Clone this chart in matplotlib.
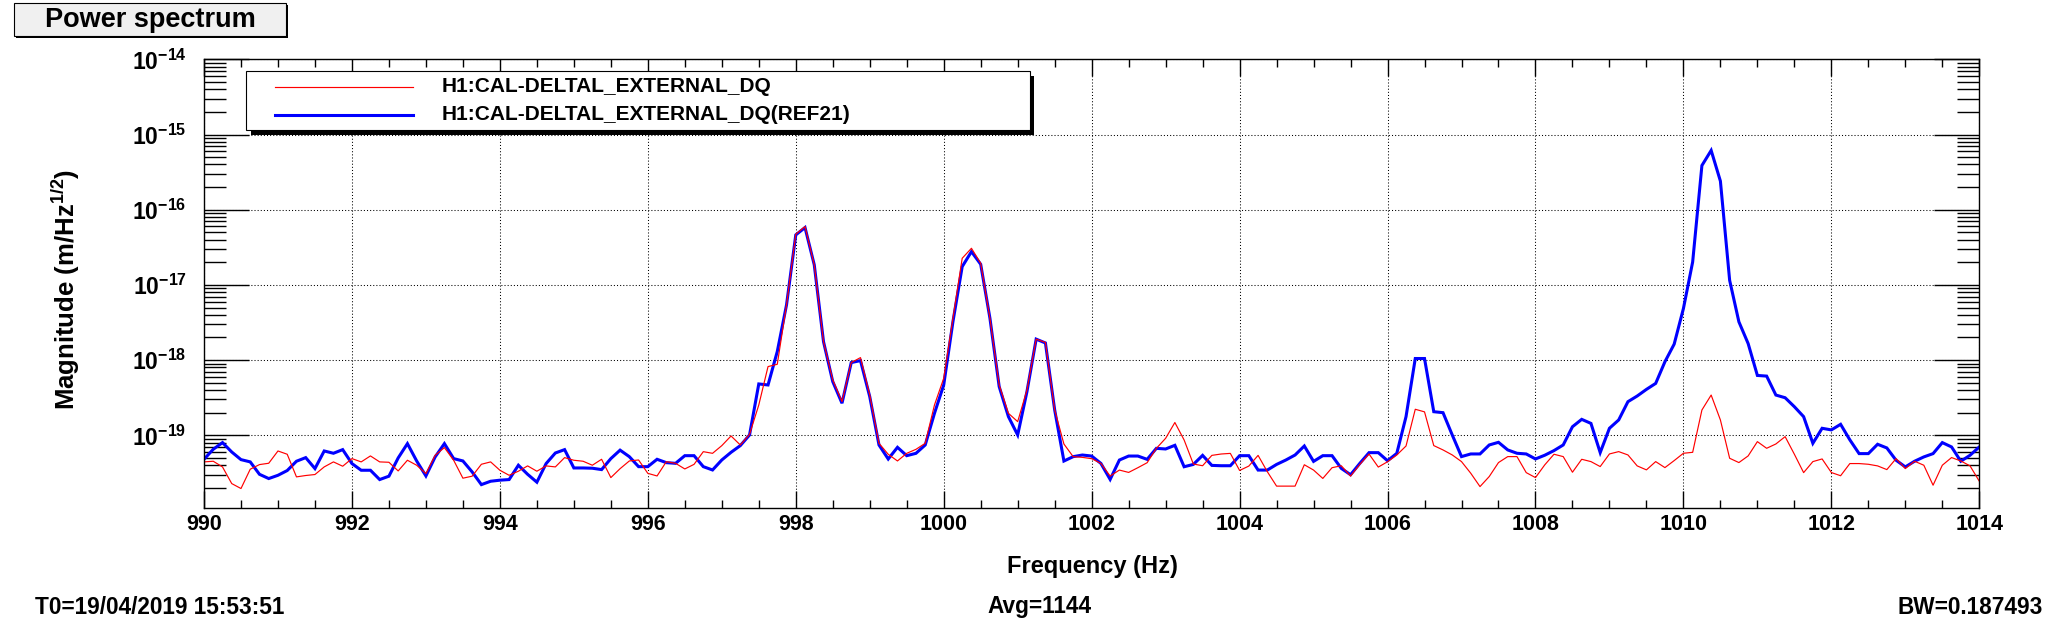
import numpy as np
import matplotlib
matplotlib.use("Agg")
import matplotlib.pyplot as plt
from matplotlib.ticker import MultipleLocator, LogLocator, FuncFormatter, NullFormatter
from matplotlib.patches import Rectangle
from matplotlib.lines import Line2D

# ---------------- data ----------------
freq_start, freq_stop, n_bins = 990.0, 1014.0, 193
freqs = np.linspace(freq_start, freq_stop, n_bins)

ref21 = [  # blue, H1:CAL-DELTAL_EXTERNAL_DQ(REF21)
    4.80e-20, 6.52e-20, 8.0e-20, 6.0e-20, 4.75e-20, 4.43e-20, 3.03e-20, 2.66e-20, 2.94e-20, 3.40e-20,
    4.52e-20, 5.05e-20, 3.61e-20, 6.19e-20, 5.77e-20, 6.45e-20, 4.21e-20, 3.43e-20, 3.43e-20, 2.58e-20,
    2.86e-20, 5.00e-20, 7.75e-20, 4.56e-20, 2.88e-20, 5.16e-20, 7.75e-20, 4.90e-20, 4.56e-20, 3.26e-20,
    2.21e-20, 2.45e-20, 2.53e-20, 2.58e-20, 4.00e-20, 3.03e-20, 2.38e-20, 4.21e-20, 5.82e-20, 6.45e-20,
    3.68e-20, 3.68e-20, 3.65e-20, 3.50e-20, 4.90e-20, 6.35e-20, 5.20e-20, 3.83e-20, 3.83e-20, 4.80e-20,
    4.33e-20, 4.24e-20, 5.36e-20, 5.36e-20, 3.83e-20, 3.46e-20, 4.70e-20, 5.94e-20, 7.29e-20, 1.01e-19,
    4.82e-19, 4.67e-19, 1.30e-18, 5.42e-18, 4.62e-17, 5.79e-17, 1.85e-17, 1.76e-18, 5.18e-19, 2.67e-19,
    9.27e-19, 9.85e-19, 3.27e-19, 7.44e-20, 4.84e-20, 6.92e-20, 5.36e-20, 5.76e-20, 7.44e-20, 1.96e-19,
    4.67e-19, 3.25e-18, 1.75e-17, 2.77e-17, 1.88e-17, 3.60e-18, 4.44e-19, 1.77e-19, 1.01e-19, 3.8e-19,
    1.90e-18, 1.69e-18, 2.18e-19, 4.55e-20, 5.20e-20, 5.47e-20, 5.30e-20, 4.23e-20, 2.59e-20, 4.69e-20,
    5.30e-20, 5.30e-20, 4.79e-20, 6.71e-20, 6.58e-20, 7.36e-20, 3.82e-20, 4.10e-20, 5.41e-20, 3.98e-20,
    3.94e-20, 3.94e-20, 5.36e-20, 5.36e-20, 3.45e-20, 3.45e-20, 4.10e-20, 4.69e-20, 5.47e-20, 7.21e-20,
    4.50e-20, 5.36e-20, 5.36e-20, 3.63e-20, 2.99e-20, 4.23e-20, 5.88e-20, 5.88e-20, 4.59e-20, 5.75e-20,
    1.77e-19, 1.05e-18, 1.05e-18, 2.06e-19, 2.00e-19, 1.01e-19, 5.21e-20, 5.65e-20, 5.65e-20, 7.44e-20,
    8.07e-20, 6.39e-20, 5.77e-20, 5.65e-20, 4.85e-20, 5.43e-20, 6.26e-20, 7.44e-20, 1.30e-19, 1.63e-19,
    1.44e-19, 5.89e-20, 1.24e-19, 1.60e-19, 2.80e-19, 3.33e-19, 4.08e-19, 4.90e-19, 9.51e-19, 1.63e-18,
    4.85e-18, 2.02e-17, 3.87e-16, 6.14e-16, 2.40e-16, 1.15e-17, 3.23e-18, 1.66e-18, 6.25e-19, 6.13e-19,
    3.43e-19, 3.16e-19, 2.40e-19, 1.77e-19, 7.83e-20, 1.24e-19, 1.18e-19, 1.40e-19, 8.7e-20, 5.71e-20,
    5.71e-20, 7.60e-20, 6.79e-20, 4.66e-20, 3.80e-20, 4.52e-20, 5.16e-20, 5.71e-20, 8.00e-20, 7.00e-20,
    4.52e-20, 5.43e-20, 7.00e-20,
]

current = [  # red, H1:CAL-DELTAL_EXTERNAL_DQ
    4.43e-20, 4.52e-20, 3.80e-20, 2.28e-20, 1.96e-20, 3.54e-20, 4.08e-20, 4.25e-20, 6.19e-20, 5.60e-20,
    2.80e-20, 2.92e-20, 3.01e-20, 3.80e-20, 4.43e-20, 3.88e-20, 4.90e-20, 4.43e-20, 5.32e-20, 4.43e-20,
    4.38e-20, 3.36e-20, 4.66e-20, 4.00e-20, 3.10e-20, 5.43e-20, 6.86e-20, 4.66e-20, 2.69e-20, 2.86e-20,
    4.12e-20, 4.43e-20, 3.43e-20, 2.94e-20, 3.33e-20, 3.92e-20, 3.33e-20, 3.92e-20, 3.80e-20, 5.05e-20,
    4.66e-20, 4.52e-20, 4.00e-20, 4.80e-20, 2.74e-20, 3.6e-20, 4.56e-20, 4.70e-20, 3.12e-20, 2.88e-20,
    4.46e-20, 4.24e-20, 3.57e-20, 4.11e-20, 6.06e-20, 5.76e-20, 7.29e-20, 9.8e-20, 7.44e-20, 1.03e-19,
    2.53e-19, 8.20e-19, 8.80e-19, 5.42e-18, 4.72e-17, 5.97e-17, 1.85e-17, 1.76e-18, 5.45e-19, 2.81e-19,
    9.27e-19, 1.08e-18, 3.44e-19, 7.83e-20, 5.59e-20, 4.56e-20, 5.76e-20, 6.51e-20, 7.83e-20, 2.53e-19,
    5.73e-19, 3.60e-18, 2.26e-17, 3.07e-17, 1.94e-17, 3.60e-18, 4.67e-19, 1.96e-19, 1.52e-19, 4.0e-19,
    1.90e-18, 1.72e-18, 2.18e-19, 7.66e-20, 5.20e-20, 5.09e-20, 4.89e-20, 4.23e-20, 2.87e-20, 3.45e-20,
    3.21e-20, 3.71e-20, 4.32e-20, 6.71e-20, 9.12e-20, 1.48e-19, 8.67e-20, 4.15e-20, 3.94e-20, 5.41e-20,
    5.64e-20, 5.75e-20, 3.41e-20, 3.90e-20, 5.41e-20, 3.28e-20, 2.11e-20, 2.11e-20, 2.11e-20, 4.06e-20,
    3.45e-20, 2.67e-20, 3.71e-20, 3.94e-20, 2.87e-20, 4.10e-20, 5.64e-20, 3.78e-20, 4.45e-20, 5.47e-20,
    7.21e-20, 2.22e-19, 2.05e-19, 7.3e-20, 6.39e-20, 5.48e-20, 4.47e-20, 3.13e-20, 2.08e-20, 2.83e-20,
    4.34e-20, 5.21e-20, 5.21e-20, 3.19e-20, 2.74e-20, 4.04e-20, 5.60e-20, 5.21e-20, 3.23e-20, 4.80e-20,
    4.47e-20, 3.84e-20, 5.65e-20, 6.07e-20, 5.48e-20, 3.92e-20, 3.47e-20, 4.47e-20, 3.72e-20, 4.61e-20,
    5.77e-20, 5.94e-20, 2.17e-19, 3.43e-19, 1.60e-19, 4.95e-20, 4.34e-20, 5.32e-20, 8.24e-20, 6.72e-20,
    7.67e-20, 9.6e-20, 5.60e-20, 3.19e-20, 4.47e-20, 4.85e-20, 3.2e-20, 2.9e-20, 4.21e-20, 4.21e-20,
    4.12e-20, 3.92e-20, 3.50e-20, 4.90e-20, 3.61e-20, 4.52e-20, 4.00e-20, 2.17e-20, 4.00e-20, 5.06e-20,
    4.56e-20, 3.92e-20, 2.45e-20,
]

series_labels = ["H1:CAL-DELTAL_EXTERNAL_DQ", "H1:CAL-DELTAL_EXTERNAL_DQ(REF21)"]
x_ticks = [990, 992, 994, 996, 998, 1000, 1002, 1004, 1006, 1008, 1010, 1012, 1014]
title_text = "Power spectrum"
x_label = "Frequency (Hz)"
y_label = "Magnitude (m/Hz$^{1/2}$)"
footer_left = "T0=19/04/2019 15:53:51"
footer_mid = "Avg=1144"
footer_right = "BW=0.187493"

# ---------------- style ----------------
FONT = "Liberation Sans"
plt.rcParams["font.family"] = [FONT, "DejaVu Sans"]
plt.rcParams["font.weight"] = "bold"
plt.rcParams["mathtext.fontset"] = "custom"
plt.rcParams["mathtext.rm"] = FONT + ":bold"
plt.rcParams["mathtext.bf"] = FONT + ":bold"
plt.rcParams["mathtext.it"] = FONT + ":bold"
plt.rcParams["mathtext.sf"] = FONT + ":bold"

W, H = 2070, 621
fig = plt.figure(figsize=(W / 100, H / 100), dpi=100)
fig.patch.set_facecolor("white")

def fx(px):
    return px / W

def fy(py):
    return 1 - py / H

ax_l, ax_r, ax_t, ax_b = 204.0, 1979.3, 59.3, 508.3
ax = fig.add_axes([fx(ax_l), fy(ax_b), fx(ax_r) - fx(ax_l), fy(ax_t) - fy(ax_b)])

ax.plot(freqs, ref21, color="#0000ff", lw=2.2, zorder=3, solid_joinstyle="miter")
ax.plot(freqs, current, color="#ff0000", lw=0.85, zorder=4)

ax.set_yscale("log")
ax.set_xlim(freq_start, freq_stop)
ax.set_ylim(1.07e-20, 1e-14)

ax.set_xticks(x_ticks)
ax.set_xticklabels([str(t) for t in x_ticks])
ax.xaxis.set_minor_locator(MultipleLocator(0.5))
ax.yaxis.set_major_locator(LogLocator(base=10, numticks=20))
ax.yaxis.set_minor_locator(LogLocator(base=10, subs=np.arange(2, 10), numticks=100))
ax.yaxis.set_minor_formatter(NullFormatter())
ax.yaxis.set_major_formatter(FuncFormatter(lambda v, p: r"$10^{%d}$" % int(round(np.log10(v)))))

ax.tick_params(which="both", direction="in", top=True, right=True, width=1.0, colors="black")
ax.tick_params(axis="x", which="major", length=12.2, pad=4.0, labelsize=15.5)
ax.tick_params(axis="x", which="minor", length=6.1)
ax.tick_params(axis="y", which="major", length=32.4, pad=12.5, labelsize=16.5)
ax.tick_params(axis="y", which="minor", length=15.8)
for lab in ax.get_xticklabels() + ax.get_yticklabels():
    lab.set_fontweight("bold")

ax.grid(which="major", color="black", linestyle=(0, (1, 2)), linewidth=0.75)
for s in ax.spines.values():
    s.set_linewidth(1.0)
    s.set_color("black")
    s.set_zorder(5)

# axis titles
fig.text(fx(1092), fy(566), x_label, ha="center", va="center", fontsize=17, fontweight="bold")
fig.text(fx(66), fy(289), y_label, ha="center", va="center", fontsize=18.5, fontweight="bold", rotation=90)

# footer
fig.text(fx(35), fy(607), footer_left, ha="left", va="center", fontsize=16.3, fontweight="bold")
fig.text(fx(1040), fy(607), footer_mid, ha="center", va="center", fontsize=16.3, fontweight="bold")
fig.text(fx(2043), fy(607), footer_right, ha="right", va="center", fontsize=16.3, fontweight="bold")

# title box
def box(x0, y0, x1, y1, **kw):
    r = Rectangle((fx(x0), fy(y1)), fx(x1) - fx(x0), fy(y0) - fy(y1), transform=fig.transFigure, **kw)
    fig.patches.append(r)

box(16, 5, 288, 38, facecolor="black", edgecolor="none", zorder=1)
box(14, 3, 286, 36, facecolor="#f0f0f0", edgecolor="black", lw=0.8, zorder=2)
fig.text(fx(150), fy(20), title_text, ha="center", va="center", fontsize=19.5, fontweight="bold", zorder=3)

# legend
box(250.6, 76, 1034.5, 135, facecolor="black", edgecolor="none", zorder=6)
box(245.6, 71, 1029.5, 130, facecolor="white", edgecolor="black", lw=0.8, zorder=7)
leg_rows = [(86.7, "#ff0000", 0.85, series_labels[0]), (115.0, "#0000ff", 2.2, series_labels[1])]
for yy, col, lw, lab in leg_rows:
    fig.lines.append(Line2D([fx(275), fx(413)], [fy(yy), fy(yy)], transform=fig.transFigure,
                            color=col, lw=lw, zorder=8))
    fig.text(fx(442), fy(yy), lab, ha="left", va="center", fontsize=15, fontweight="bold", zorder=8)

fig.savefig("out.png", dpi=100, facecolor="white")
